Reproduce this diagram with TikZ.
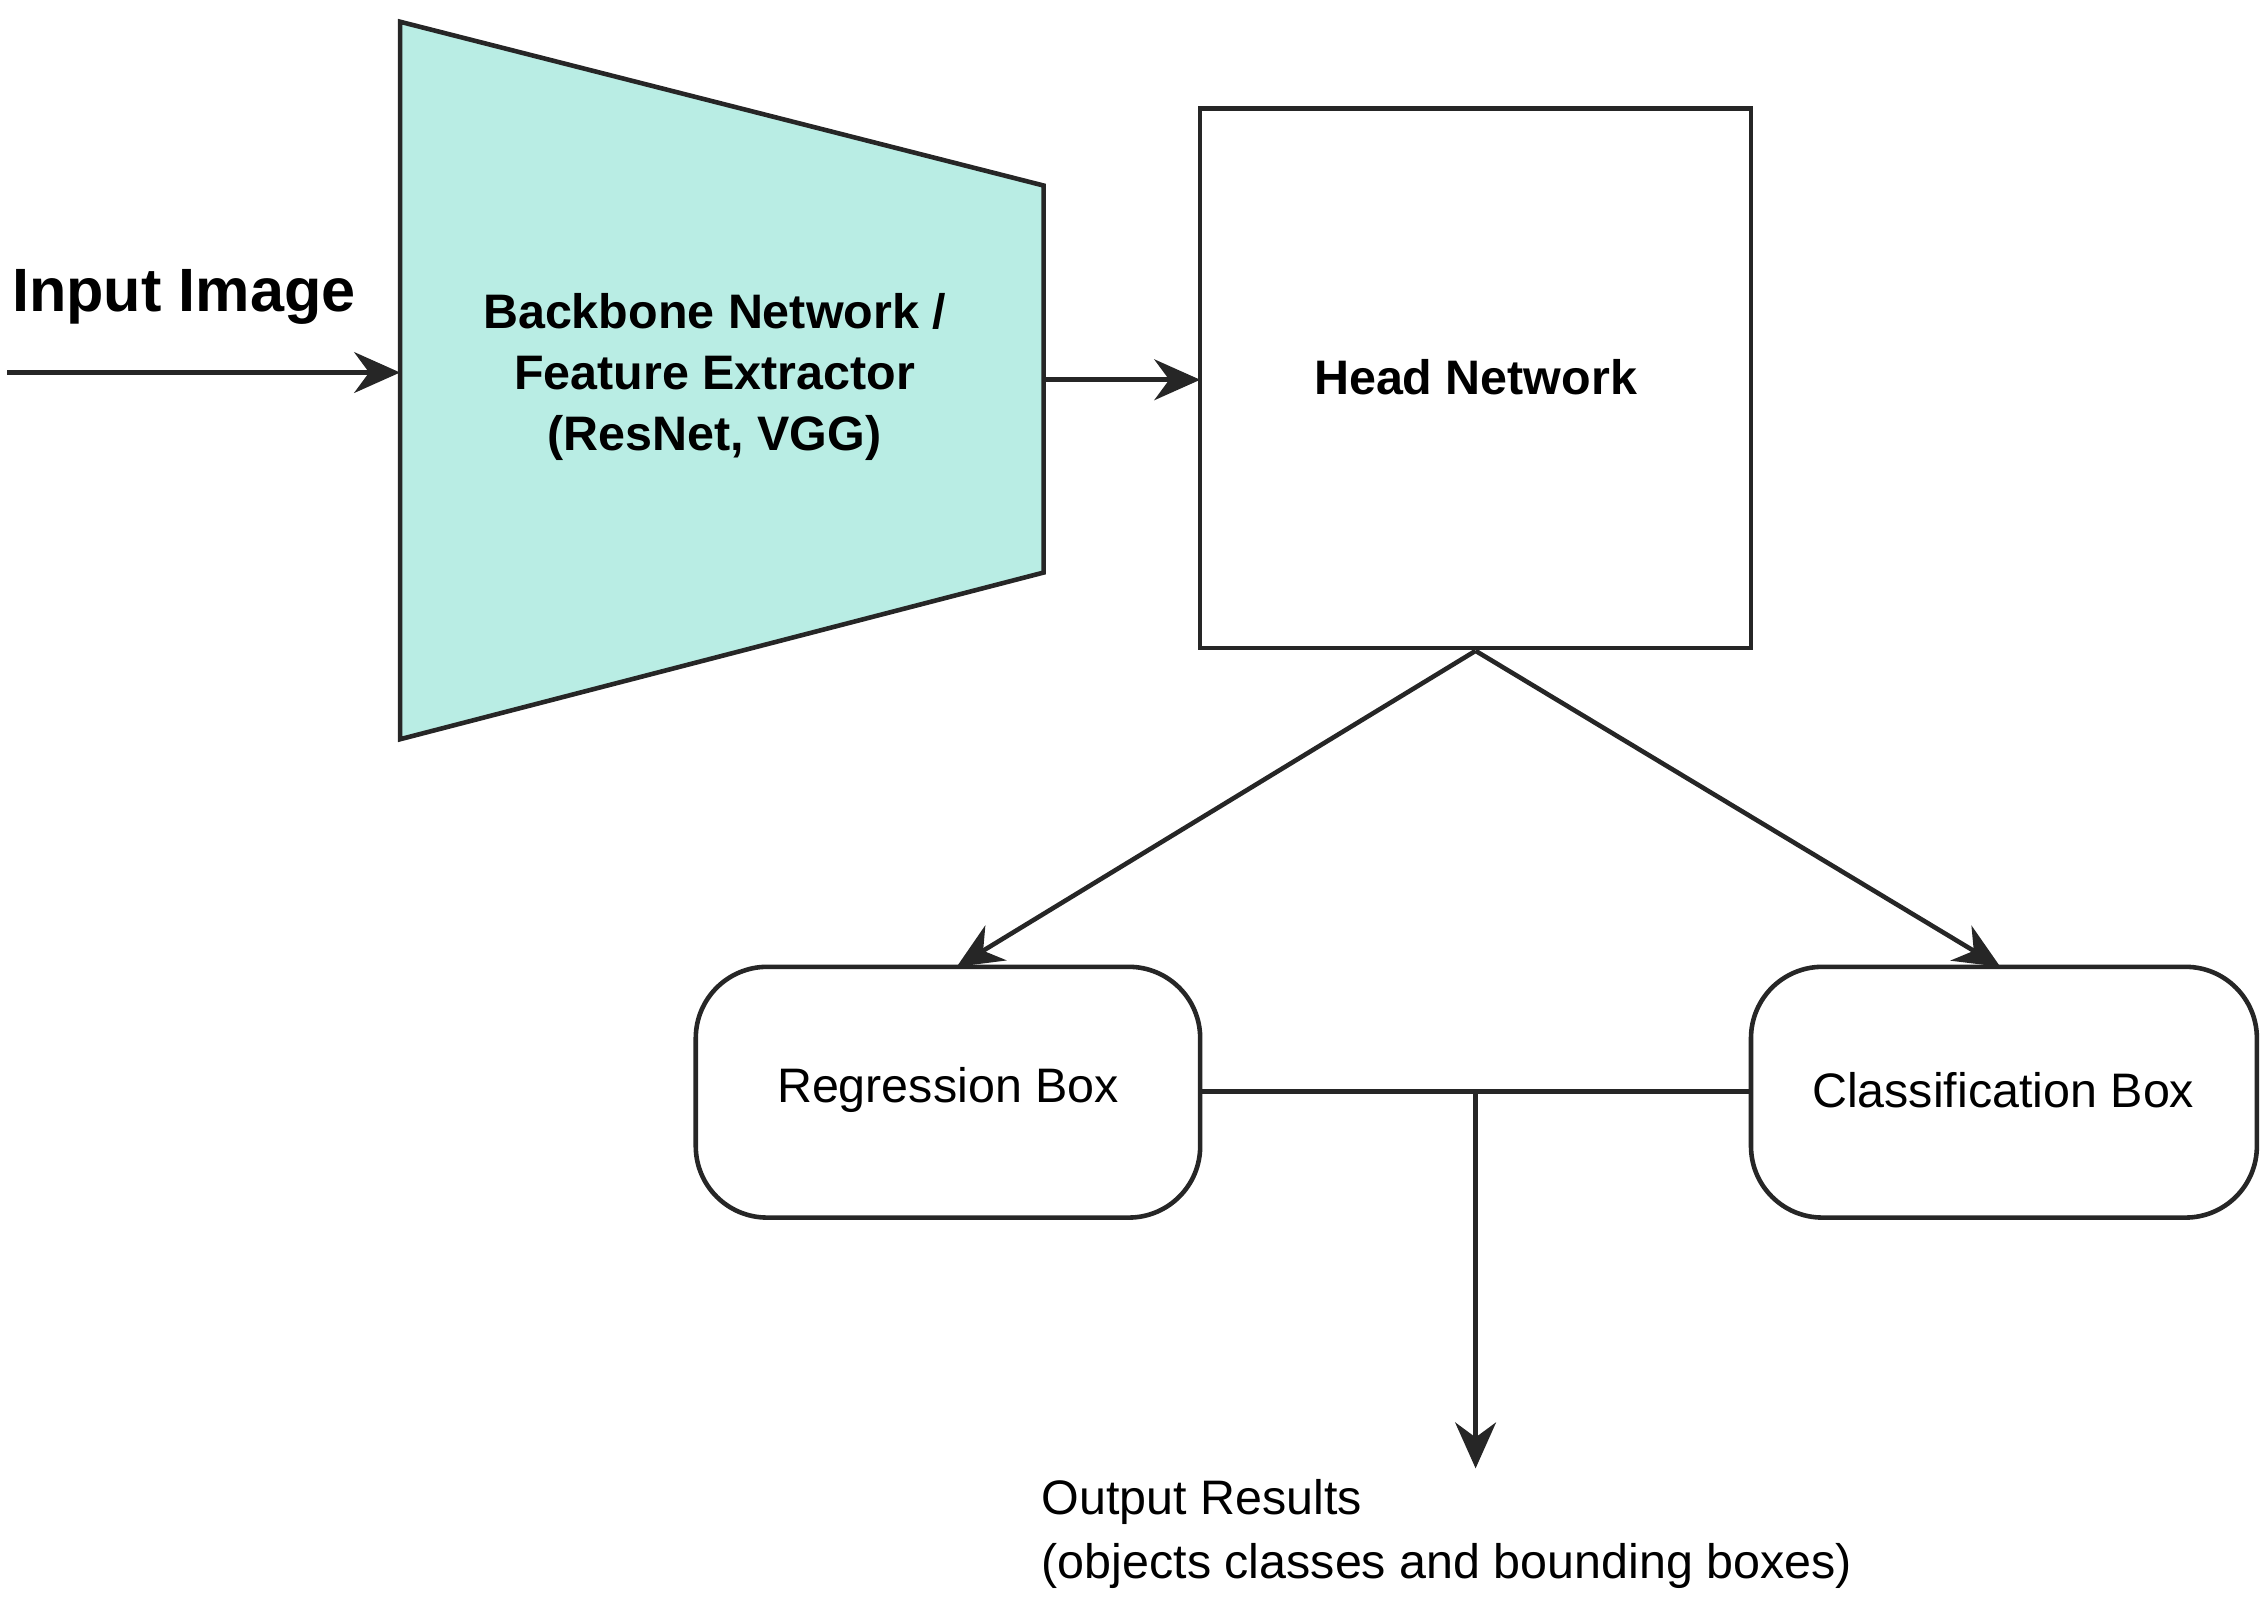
\documentclass[tikz,border=0pt]{standalone}
\usepackage{fontspec}
\setmainfont{Liberation Sans}
\usetikzlibrary{arrows.meta}
\definecolor{teal1}{HTML}{B9EDE4}
\begin{document}
\begin{tikzpicture}[x=0.01cm,y=-0.01cm,
  line/.style={line width=0.9pt,black!85},
  arr/.style={line, -{Stealth[length=9pt,width=8pt]}},
  lbl/.style={font=\fontsize{9.5pt}{12pt}\selectfont,align=center}]
\useasboundingbox (0,0) rectangle (1564,1112);
\draw[line,fill=teal1] (276,15) -- (720,128) -- (720,395) -- (276,510) -- cycle;
\node[lbl,font=\fontsize{9.5pt}{12pt}\selectfont\bfseries] (bb) at (493,260) {Backbone Network /\\Feature Extractor\\(ResNet, VGG)};
\coordinate (bbin) at (276,257);
\coordinate (bbout) at (720,262);
\coordinate (src) at (5,257);
\node[font=\fontsize{12pt}{14pt}\selectfont\bfseries,anchor=west] (inp) at (-4,205) {Input Image};
\draw[arr] (src) -- (bbin);
\draw[line] (828,75) rectangle (1208,447);
\node[lbl,font=\fontsize{9.5pt}{12pt}\selectfont\bfseries] (head) at (1018,260) {Head Network};
\coordinate (headin) at (828,262);
\coordinate (headb) at (1018,449);
\draw[arr] (bbout) -- (headin);
\draw[line,rounded corners=14pt] (480,667) rectangle (828,840);
\draw[line,rounded corners=14pt] (1208,667) rectangle (1557,840);
\node[lbl] (reg) at (654,752) {Regression Box};
\node[lbl] (cls) at (1382,752) {Classification Box};
\coordinate (regt) at (660,667);
\coordinate (clst) at (1380,667);
\draw[arr] (headb) -- (regt);
\draw[arr] (headb) -- (clst);
\coordinate (regr) at (828,753);
\coordinate (clsl) at (1208,753);
\coordinate (mid) at (1018,753);
\coordinate (outp) at (1018,1013);
\draw[line] (regr) -- (clsl);
\draw[arr] (mid) -- (outp);
\node[font=\fontsize{9.5pt}{12.5pt}\selectfont,align=left,anchor=north west,inner sep=0pt] (out) at (718,1020) {Output Results\\(objects classes and bounding boxes)};
\end{tikzpicture}
\end{document}
